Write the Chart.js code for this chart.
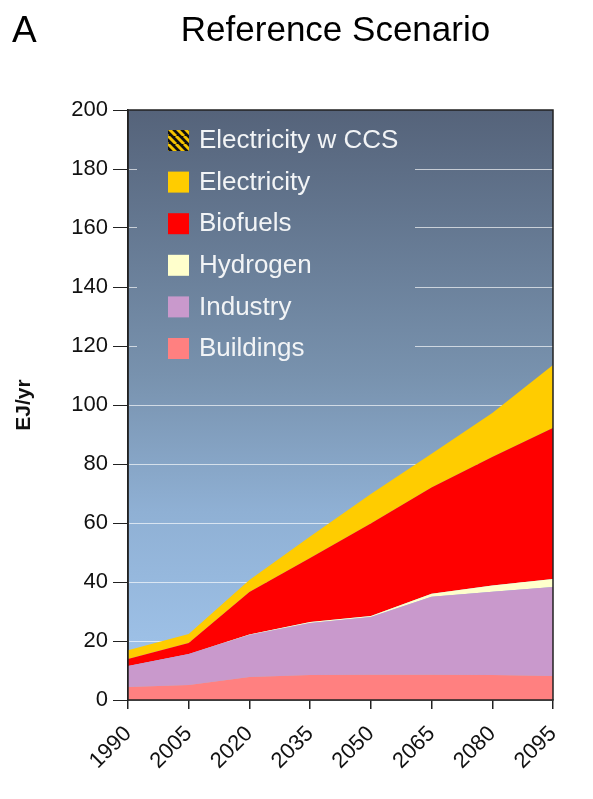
<!DOCTYPE html>
<html>
<head>
<meta charset="utf-8">
<script src="https://cdn.jsdelivr.net/npm/chart.js@4/dist/chart.umd.min.js"></script>
<style>
  html, body { margin: 0; padding: 0; background: #ffffff; }
  #wrap { position: relative; width: 593px; height: 799px; }
  #panel { position: absolute; left: 12px; top: 9px; font: 37px "Liberation Sans", Arial, sans-serif; color: #000; }
  #title { position: absolute; left: 0; width: 593px; top: 9px; text-align: center; padding-left: 78px; box-sizing: border-box;
           font: 35px "Liberation Sans", Arial, sans-serif; color: #000; }
  canvas { position: absolute; left: 0; top: 0; }
</style>
</head>
<body>
<div id="wrap">
  <canvas id="chart" width="593" height="799"></canvas>
  <div id="panel">A</div>
  <div id="title">Reference Scenario</div>
</div>
<script>
// Final energy by sector, EJ/yr (stacked from the bottom up)
const years       = [1990, 2005, 2020, 2035, 2050, 2065, 2080, 2095];
const buildings   = [4.4, 5.1, 7.8, 8.5, 8.6, 8.6, 8.5, 8.1];
const industry    = [7.1, 10.5, 14.2, 17.6, 19.5, 26.4, 28.2, 30.2];
const hydrogen    = [0.0, 0.0, 0.2, 0.3, 0.4, 1.0, 2.1, 2.7];
const biofuels    = [2.4, 3.7, 14.4, 21.7, 31.3, 36.0, 43.6, 51.2];
const electricity = [3.0, 3.1, 4.1, 7.3, 10.0, 11.5, 14.9, 21.4];
const electricityCCS = [0, 0, 0, 0, 0, 0, 0, 0];

const yTicks = [0, 20, 40, 60, 80, 100, 120, 140, 160, 180, 200];
const xTicks = [1990, 2005, 2020, 2035, 2050, 2065, 2080, 2095];

const seriesNames = ['Buildings', 'Industry', 'Hydrogen', 'Biofuels', 'Electricity', 'Electricity w CCS'];

// Black / yellow hatching for the CCS series
function makeHatch() {
  const c = document.createElement('canvas');
  c.width = 8; c.height = 8;
  const g = c.getContext('2d');
  g.fillStyle = '#111111';
  g.fillRect(0, 0, 8, 8);
  g.strokeStyle = '#f5c400';
  g.lineWidth = 3;
  g.beginPath();
  for (let k = -8; k <= 16; k += 8) { g.moveTo(k, 0); g.lineTo(k + 8, 8); }
  g.stroke();
  return g.createPattern(c, 'repeat');
}
const ctx = document.getElementById('chart').getContext('2d');
const hatch = makeHatch();

const colors = ['#ff8080', '#c999cc', '#ffffcc', '#ff0000', '#ffcc00', hatch];
const values = [buildings, industry, hydrogen, biofuels, electricity, electricityCCS];

const datasets = values.map((arr, i) => ({
  label: seriesNames[i],
  data: years.map((yr, j) => ({ x: yr, y: arr[j] })),
  backgroundColor: colors[i],
  borderWidth: 0,
  pointRadius: 0,
  fill: i === 0 ? 'origin' : '-1',
  tension: 0
}));

let areaGradient = null;
function gradientFor(chart) {
  const a = chart.chartArea;
  const g = chart.ctx.createLinearGradient(0, a.top, 0, a.bottom);
  g.addColorStop(0.00, '#55637a');
  g.addColorStop(0.45, '#7892ae');
  g.addColorStop(0.68, '#8fb0d4');
  g.addColorStop(1.00, '#a3c7ee');
  return g;
}

const backdrop = {
  id: 'backdrop',
  beforeDraw(chart) {
    const a = chart.chartArea, c = chart.ctx;
    areaGradient = gradientFor(chart);
    c.save();
    c.fillStyle = areaGradient;
    c.fillRect(a.left, a.top, a.right - a.left, a.bottom - a.top);
    c.restore();
  }
};

// Legend panel inside the plot, listed from the top series down
const panelLegend = {
  id: 'panelLegend',
  beforeDatasetsDraw(chart) {
    const a = chart.chartArea, c = chart.ctx;
    c.save();
    c.fillStyle = areaGradient;
    c.fillRect(a.left + 9, a.top + 8, 278, 254);
    const items = chart.data.datasets.slice().reverse();
    c.font = '26px "Liberation Sans", Arial, sans-serif';
    c.textBaseline = 'middle';
    items.forEach((ds, i) => {
      const cy = a.top + 30 + i * 41.6;
      c.fillStyle = ds.backgroundColor;
      c.fillRect(a.left + 40, cy - 10, 21, 21);
      c.fillStyle = '#f2f4f6';
      c.fillText(ds.label, a.left + 71, cy + 1);
    });
    c.restore();
  }
};

const frame = {
  id: 'frame',
  afterDraw(chart) {
    const a = chart.chartArea, c = chart.ctx;
    c.save();
    c.strokeStyle = '#222222';
    c.lineWidth = 1.5;
    c.strokeRect(a.left, a.top, a.right - a.left, a.bottom - a.top);
    c.restore();
  }
};

new Chart(ctx, {
  type: 'line',
  data: { datasets },
  plugins: [backdrop, panelLegend, frame],
  options: {
    responsive: false,
    animation: false,
    layout: { padding: { top: 110, right: 40, left: 0, bottom: 0 } },
    plugins: { legend: { display: false }, tooltip: { enabled: false } },
    elements: { line: { borderWidth: 0 } },
    scales: {
      x: {
        type: 'linear',
        min: 1990, max: 2095,
        afterBuildTicks(scale) { scale.ticks = xTicks.map(v => ({ value: v })); },
        afterFit(scale) { scale.height = 99; },
        ticks: {
          autoSkip: false, maxRotation: 45, minRotation: 45, padding: 12,
          color: '#111111',
          font: { family: '"Liberation Sans", Arial, sans-serif', size: 22 },
          callback: v => String(v)
        },
        grid: { drawOnChartArea: false, tickLength: 9, color: '#222222', lineWidth: 1.5 },
        border: { display: true, color: '#222222', width: 1.5 }
      },
      y: {
        stacked: true,
        min: 0, max: 200,
        afterBuildTicks(scale) { scale.ticks = yTicks.map(v => ({ value: v })); },
        afterFit(scale) { scale.width = 128; },
        ticks: {
          padding: 5, color: '#111111',
          font: { family: '"Liberation Sans", Arial, sans-serif', size: 22 }
        },
        grid: {
          tickLength: 15,
          tickColor: '#222222',
          lineWidth: 1,
          color: c => (c.tick && (c.tick.value === 0 || c.tick.value === 200)) ? 'rgba(0,0,0,0)' : 'rgba(255,255,255,0.65)'
        },
        border: { display: true, color: '#222222', width: 1.5 },
        title: {
          display: true, text: 'EJ/yr', color: '#111111',
          font: { family: '"Liberation Sans", Arial, sans-serif', size: 21, weight: 'bold' },
          padding: { top: 12, bottom: 0 }
        }
      }
    }
  }
});
</script>
</body>
</html>
